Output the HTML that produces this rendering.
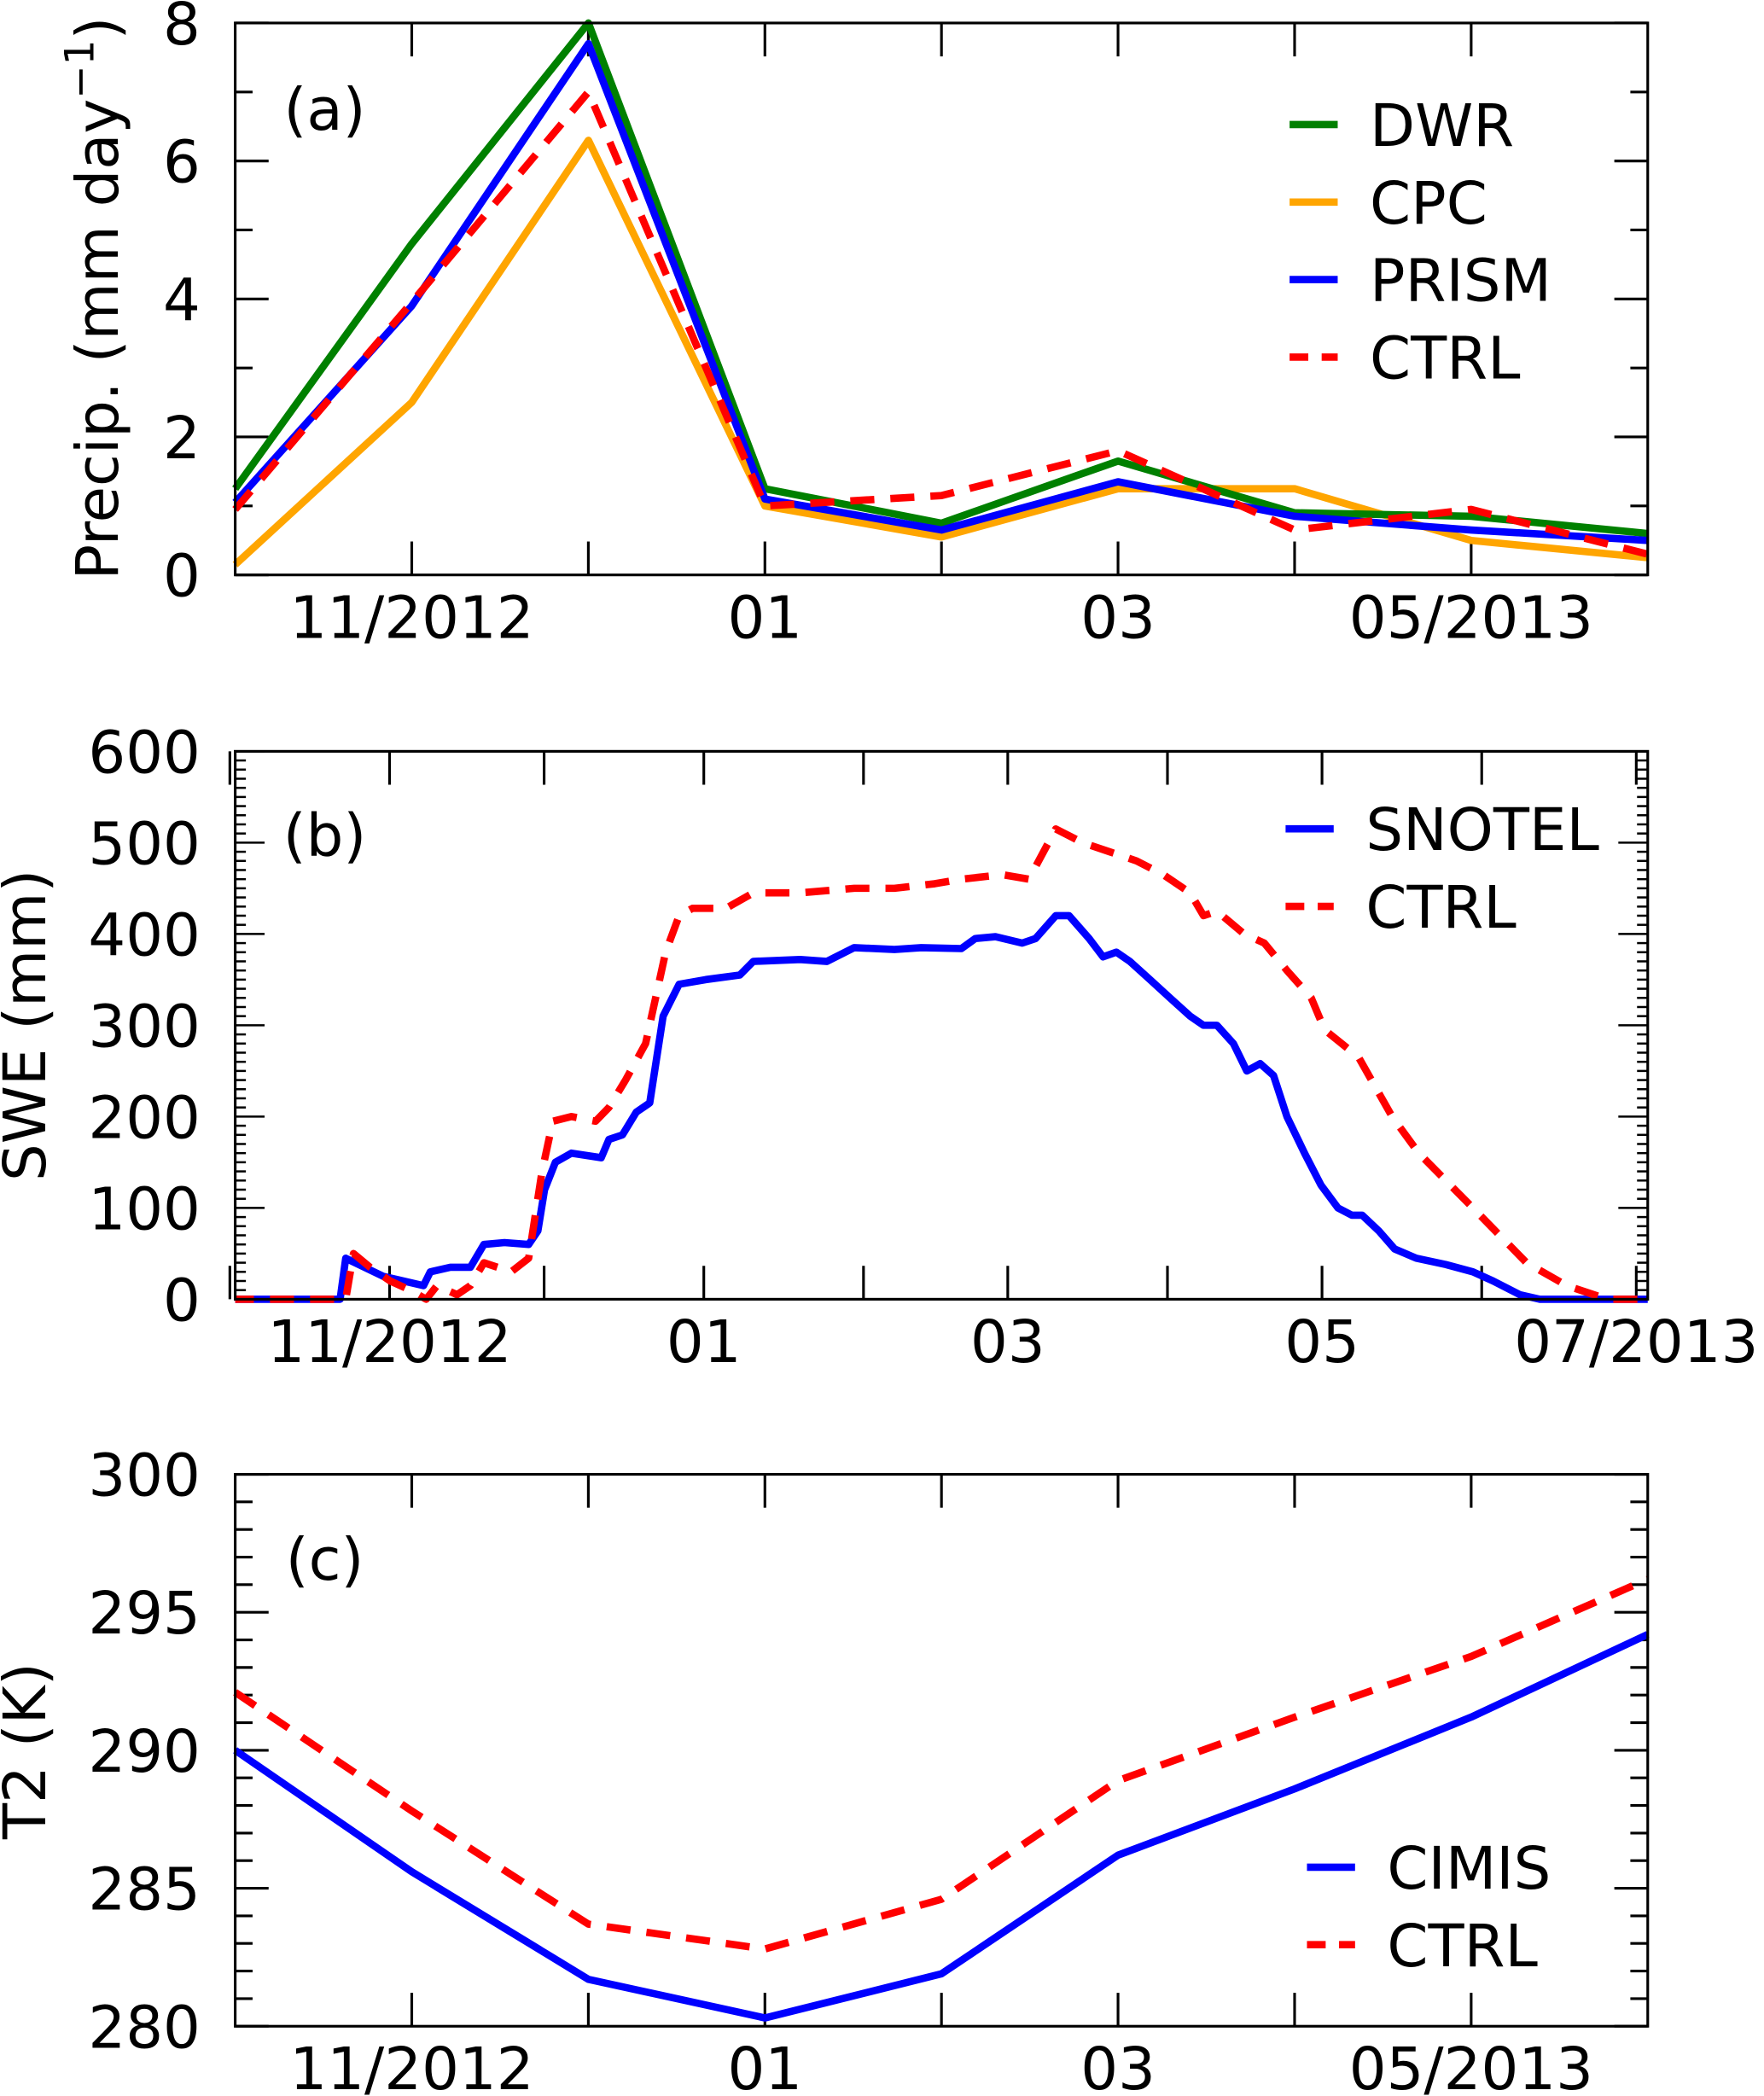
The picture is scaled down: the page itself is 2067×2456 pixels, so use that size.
<!DOCTYPE html>
<html><head><meta charset="utf-8"><style>
html,body{margin:0;padding:0;background:#fff}
svg{display:block}
text{font-family:"DejaVu Sans","Liberation Sans",sans-serif;fill:#000}
</style></head><body>
<svg id="fig" width="2067" height="2456" viewBox="0 0 1320 1568" xmlns="http://www.w3.org/2000/svg"></svg>
<script>
// ---- Panel (a) data: monthly precip, Oct 2012 .. Jun 2013 ----
const monthsA = [0,1,2,3,4,5,6,7,8];
const dwrA   = [1.25,4.8,8.0,1.25,0.75,1.65,0.9,0.85,0.6];
const cpcA   = [0.15,2.5,6.3,1.0,0.55,1.25,1.25,0.5,0.25];
const prismA = [1.05,3.9,7.7,1.1,0.65,1.35,0.85,0.65,0.5];
const ctrlA  = [0.95,3.95,7.0,1.0,1.15,1.8,0.65,0.95,0.3];
const yTicksA = [0,2,4,6,8];
const xLabelsA = [[1,"11/2012"],[3,"01"],[5,"03"],[7,"05/2013"]];
// ---- Panel (b) data: daily SWE, day index from 1 Oct 2012 ----
const snotelDays = [0,21.4,22.5,29.8,37.6,38.9,42.8,46.7,49.3,53.3,58,59.8,61.1,63.2,66.3,72.1,73.6,76.2,78.9,81.5,84.1,87.2,92.4,99,101.6,110.7,115.9,121.2,129,134.2,142,144.7,148.6,153.8,156.4,160.3,162.9,166.8,169.5,172.1,174.7,178.6,182.5,186.4,189,191.6,194.8,197.4,200,202.6,205.2,208.6,211.8,215.1,217.8,219.8,223,226.1,230.3,236,241.3,245.2,250.4,254.3,276];
const snotelSWE  = [0,0,45,25,15,30,35,35,60,62,60,75,120,150,160,155,175,180,205,215,310,345,350,355,370,372,370,385,383,385,384,395,397,390,395,420,420,395,375,380,370,350,330,310,300,300,280,250,258,245,200,160,125,100,92,92,75,55,45,38,30,20,5,0,0];
const ctrlBDays = [0,22.5,24,27.2,31.1,35,38.1,40.2,44.1,46.7,49.3,54.6,58,60.6,62.7,66.3,71,73.6,76.8,80.7,84.6,87.2,89.8,96.3,101.6,110.7,121.2,129,136.8,142,149.9,155.1,160.3,165.5,170.8,176,181.2,186.4,189,191.6,196.9,200.8,205.2,209.9,212.5,219.1,225.6,230.8,241.3,251.7,259.5,267.4,276];
const ctrlBSWE  = [0,0,50,35,20,10,0,15,5,15,40,30,45,140,195,200,195,210,240,280,380,420,428,428,445,445,450,450,455,460,465,460,515,500,490,480,465,445,420,425,400,390,360,330,295,265,200,160,100,40,15,0,0];
const yTicksB = [0,100,200,300,400,500,600];
const monthStartDays = [0,31,61,92,123,151,182,212,243,273];
const xLabelsB = [[1,"11/2012"],[3,"01"],[5,"03"],[7,"05"],[9,"07/2013"]];
// ---- Panel (c) data: monthly T2 ----
const cimisC = [290.0,285.6,281.7,280.3,281.9,286.2,288.6,291.2,294.2];
const ctrlC  = [292.1,287.8,283.7,282.8,284.6,288.9,291.2,293.4,296.2];
const yTicksC = [280,285,290,295,300];

const NS="http://www.w3.org/2000/svg";
const svg=document.getElementById('fig');
function el(tag,attrs,parent){const e=document.createElementNS(NS,tag);for(const k in attrs)e.setAttribute(k,attrs[k]);(parent||svg).appendChild(e);return e;}
function txt(s,x,y,size,anchor,fill,parent){const t=el('text',{x:x,y:y,'font-size':size,'text-anchor':anchor||'middle',fill:fill||'#000'},parent);t.textContent=s;return t;}

const L=176,R=1233;
function line(parent,xs,ys,fx,fy,color,dash,name){
  const pts=xs.map((x,i)=>fx(x).toFixed(1)+','+fy(ys[i]).toFixed(1)).join(' ');
  const p=el('polyline',{points:pts,fill:'none',stroke:color,'stroke-width':5.5,'stroke-linejoin':'round'},parent);
  if(dash)p.setAttribute('stroke-dasharray','18 12');
  
  
}
function frame(g,T,B){
  const r=el('rect',{x:L,y:T,width:R-L,height:B-T,fill:'none',stroke:'#000','stroke-width':2},g);
  
  
}
function legend(g,items,x0,y0,dy){
  items.forEach((it,i)=>{
    const y=y0+i*dy;
    const lg=el('g',{},g);
    
    
    const ln=el('line',{x1:x0,y1:y,x2:x0+36,y2:y,stroke:it[1],'stroke-width':5.5},lg);
    if(it[2])ln.setAttribute('stroke-dasharray','14 10');
    txt(it[0],x0+60,y+16,44,'start',it[1],lg);
  });
}

// ===== Panel (a) =====
{
  const T=17,B=430;
  const g=el('g',{});
  const fx=m=>L+(R-L)*m/8, fy=v=>B-(B-T)*v/8;
  for(let m=1;m<8;m++){el('line',{x1:fx(m),y1:B,x2:fx(m),y2:B-25,stroke:'#000','stroke-width':2},g);el('line',{x1:fx(m),y1:T,x2:fx(m),y2:T+25,stroke:'#000','stroke-width':2},g);}
  for(let v=0;v<=8;v++){const len=v%2?13:25;el('line',{x1:L,y1:fy(v),x2:L+len,y2:fy(v),stroke:'#000','stroke-width':2},g);el('line',{x1:R,y1:fy(v),x2:R-len,y2:fy(v),stroke:'#000','stroke-width':2},g);}
  yTicksA.forEach(v=>txt(String(v),150,fy(v)+16,44,'end','#000',g));
  xLabelsA.forEach(([m,s])=>txt(s,fx(m),477,44,'middle','#000',g));
  line(g,monthsA,cpcA,fx,fy,'#FFA500',false,'cpc-line');
  line(g,monthsA,dwrA,fx,fy,'#008000',false,'dwr-line');
  line(g,monthsA,prismA,fx,fy,'#0000FF',false,'prism-line');
  line(g,monthsA,ctrlA,fx,fy,'#FF0000',true,'ctrl-line-a');
  frame(g,T,B);
  txt('(a)',243,97,44,'middle','#000',g);
  const yl=el('text',{x:0,y:0,'font-size':44,'text-anchor':'middle',transform:'translate(88,223) rotate(-90)'},g);
  
  yl.innerHTML='Precip. (mm day<tspan dy="-18" font-size="30">−1</tspan><tspan dy="18">)</tspan>';
  legend(g,[['DWR','#008000'],['CPC','#FFA500'],['PRISM','#0000FF'],['CTRL','#FF0000',true]],965,93,58);
}

// ===== Panel (b) =====
{
  const T=562,B=972;
  const g=el('g',{});
  const pxPerDay=3.855;
  const fx=d=>172+d*pxPerDay, fy=v=>B-(B-T)*v/600;
  monthStartDays.forEach(d=>{el('line',{x1:fx(d),y1:B,x2:fx(d),y2:B-25,stroke:'#000','stroke-width':2},g);el('line',{x1:fx(d),y1:T,x2:fx(d),y2:T+25,stroke:'#000','stroke-width':2},g);});
  for(let v=0;v<=600;v+=10){const len=v%100?8:22;el('line',{x1:L,y1:fy(v),x2:L+len,y2:fy(v),stroke:'#000','stroke-width':1.6},g);el('line',{x1:R,y1:fy(v),x2:R-len,y2:fy(v),stroke:'#000','stroke-width':1.6},g);}
  yTicksB.forEach(v=>txt(String(v),150,fy(v)+16,44,'end','#000',g));
  xLabelsB.forEach(([m,s])=>txt(s,fx(monthStartDays[m]),1019,44,'middle','#000',g));
  const clip=el('clipPath',{id:'clipb'},g);el('rect',{x:L,y:T-10,width:R-L,height:B-T+20},clip);
  const lg=el('g',{'clip-path':'url(#clipb)'},g);
  line(lg,snotelDays,snotelSWE,fx,fy,'#0000FF',false,'snotel-line');
  line(lg,ctrlBDays,ctrlBSWE,fx,fy,'#FF0000',true,'ctrl-line-b');
  frame(g,T,B);
  txt('(b)',243,640,44,'middle','#000',g);
  const yl=txt('SWE (mm)',0,0,44,'middle','#000',g);
  yl.setAttribute('transform','translate(34,767) rotate(-90)');
  
  legend(g,[['SNOTEL','#0000FF'],['CTRL','#FF0000',true]],962,620,58);
}

// ===== Panel (c) =====
{
  const T=1103,B=1516;
  const g=el('g',{});
  const fx=m=>L+(R-L)*m/8, fy=v=>B-(B-T)*(v-280)/20;
  for(let m=1;m<8;m++){el('line',{x1:fx(m),y1:B,x2:fx(m),y2:B-25,stroke:'#000','stroke-width':2},g);el('line',{x1:fx(m),y1:T,x2:fx(m),y2:T+25,stroke:'#000','stroke-width':2},g);}
  for(let v=280;v<=300;v++){const len=v%5?13:25;el('line',{x1:L,y1:fy(v),x2:L+len,y2:fy(v),stroke:'#000','stroke-width':2},g);el('line',{x1:R,y1:fy(v),x2:R-len,y2:fy(v),stroke:'#000','stroke-width':2},g);}
  yTicksC.forEach(v=>txt(String(v),150,fy(v)+16,44,'end','#000',g));
  xLabelsA.forEach(([m,s])=>txt(s,fx(m),1563,44,'middle','#000',g));
  line(g,monthsA,cimisC,fx,fy,'#0000FF',false,'cimis-line');
  line(g,monthsA,ctrlC,fx,fy,'#FF0000',true,'ctrl-line-c');
  frame(g,T,B);
  txt('(c)',243,1182,44,'middle','#000',g);
  const yl=txt('T2 (K)',0,0,44,'middle','#000',g);
  yl.setAttribute('transform','translate(34,1310) rotate(-90)');
  
  legend(g,[['CIMIS','#0000FF'],['CTRL','#FF0000',true]],978,1397,58);
}
</script>
</body></html>
